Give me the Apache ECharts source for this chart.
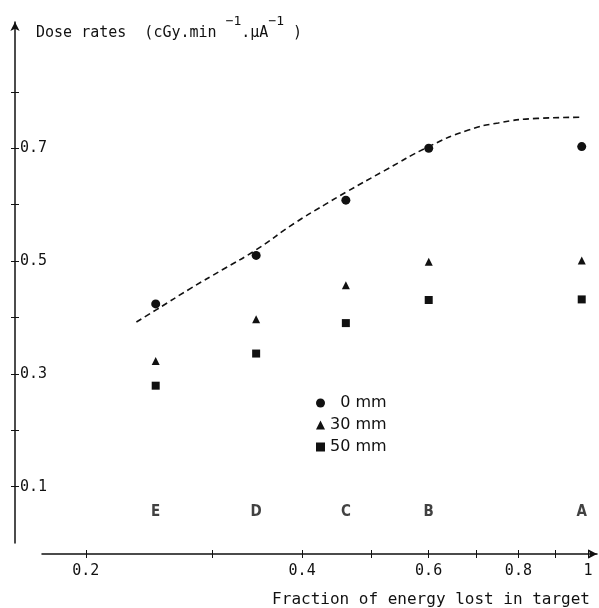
<!DOCTYPE html>
<html>
<head>
<meta charset="utf-8">
<script src="https://cdn.jsdelivr.net/npm/echarts@6/dist/echarts.min.js"></script>
<style>
  html, body { margin: 0; padding: 0; background: #fff; }
  #chart { width: 599px; height: 608px; }
</style>
</head>
<body>
<div id="chart"></div>
<script>
// fraction of energy lost in target, one column per target
var fractions = [0.25, 0.345, 0.46, 0.6, 0.98];
var targetLetters = ['E', 'D', 'C', 'B', 'A'];
var dose0mm = [0.424, 0.51, 0.608, 0.70, 0.703];
var dose30mm = [0.323, 0.397, 0.457, 0.499, 0.501];
var dose50mm = [0.279, 0.336, 0.39, 0.431, 0.432];
var letterLevel = 0.055;

// dashed guide curve
var curveX = [0.235, 0.25, 0.28, 0.31, 0.345, 0.39, 0.43, 0.46, 0.52, 0.6, 0.68, 0.75, 0.85, 0.98];
var curveY = [0.392, 0.413, 0.452, 0.485, 0.52, 0.567, 0.60, 0.622, 0.66, 0.703, 0.732, 0.745, 0.753, 0.755];

var xTickValues = [0.2, 0.3, 0.4, 0.5, 0.6, 0.7, 0.8, 0.9, 1];
var xLabelValues = [0.2, 0.4, 0.6, 0.8, 1];
var yTickValues = [0.1, 0.2, 0.3, 0.4, 0.5, 0.6, 0.7, 0.8];
var yLabelValues = [0.1, 0.3, 0.5, 0.7];

var MONO = '"DejaVu Sans Mono", monospace';
var INK = '#111';

// the x axis is logarithmic: values go in as log10
function lg(v) { return Math.log10(v); }
function pairs(xs, ys) {
    return xs.map(function(x, i) { return [lg(x), ys[i]]; });
}

var X_MIN = -0.798, X_MAX = 0.0125;
var Y_MAX = 0.924;

var chart = echarts.init(document.getElementById('chart'));
chart.setOption({
    animation: false,
    title: {
        left: 31,
        top: 10,
        text: '{t|Dose rates  (cGy.min }{s|\u22121}{t|.\u00b5A}{s|\u22121}{t| )}',
        textStyle: {
            rich: {
                t: { fontFamily: MONO, fontSize: 15, fontWeight: 'normal', color: INK, verticalAlign: 'bottom', lineHeight: 26 },
                s: { fontFamily: MONO, fontSize: 13, fontWeight: 'normal', color: INK, verticalAlign: 'top', lineHeight: 26, padding: [0, 0, 12, 0] }
            }
        }
    },
    legend: {
        orient: 'vertical',
        left: 311,
        top: 390,
        itemWidth: 9,
        itemHeight: 9,
        itemGap: 6,
        itemStyle: { opacity: 1 },
        textStyle: { fontFamily: '"DejaVu Sans", sans-serif', fontSize: 16, color: INK },
        data: [
            { name: '\u20070 mm', icon: 'circle' },
            { name: '30 mm', icon: 'triangle' },
            { name: '50 mm', icon: 'rect' }
        ]
    },
    grid: [
        { left: 15, right: 2, top: 22, bottom: 65 },
        { left: 42, right: 2, top: 540, bottom: 54 }
    ],
    xAxis: [
        { gridIndex: 0, type: 'value', min: X_MIN, max: X_MAX, show: false },
        {
            gridIndex: 1, type: 'value', min: -0.760, max: X_MAX, position: 'bottom',
            axisLine: { onZero: false, lineStyle: { color: INK, width: 1.5 }, symbol: ['none', 'arrow'], symbolSize: [7, 9] },
            axisTick: { length: 4, lineStyle: { color: INK }, customValues: xTickValues.map(lg) },
            axisLabel: {
                margin: 10, fontFamily: MONO, fontSize: 15, color: INK,
                customValues: xLabelValues.map(lg),
                formatter: function(v) { return String(Math.round(Math.pow(10, v) * 10) / 10); }
            },
            splitLine: { show: false }
        },
        {
            gridIndex: 1, type: 'value', min: -0.760, max: X_MAX, position: 'bottom',
            axisLine: { onZero: false, show: false },
            axisTick: { inside: true, length: 4, lineStyle: { color: INK }, customValues: xTickValues.map(lg) },
            axisLabel: { show: false },
            splitLine: { show: false }
        }
    ],
    yAxis: [
        {
            gridIndex: 0, type: 'value', min: 0, max: Y_MAX, position: 'left',
            axisLine: { onZero: false, lineStyle: { color: INK, width: 1.5 }, symbol: ['none', 'arrow'], symbolSize: [7, 9] },
            axisTick: { inside: true, length: 4, lineStyle: { color: INK }, customValues: yTickValues },
            axisLabel: {
                inside: true, margin: 5, fontFamily: MONO, fontSize: 15, color: INK,
                customValues: yLabelValues,
                formatter: function(v) { return v.toFixed(1); }
            },
            splitLine: { show: false }
        },
        {
            gridIndex: 0, type: 'value', min: 0, max: Y_MAX, position: 'left',
            axisLine: { onZero: false, show: false },
            axisTick: { length: 4, lineStyle: { color: INK }, customValues: yTickValues },
            axisLabel: { show: false },
            splitLine: { show: false }
        },
        { gridIndex: 1, type: 'value', show: false }
    ],
    series: [
        {
            name: 'curve', type: 'line', xAxisIndex: 0, yAxisIndex: 0,
            smooth: true, symbol: 'none', silent: true,
            lineStyle: { color: INK, width: 1.6, type: [6, 4] },
            data: pairs(curveX, curveY)
        },
        {
            name: '\u20070 mm', type: 'scatter', xAxisIndex: 0, yAxisIndex: 0,
            symbol: 'circle', symbolSize: 9, itemStyle: { color: INK, opacity: 1 },
            data: pairs(fractions, dose0mm)
        },
        {
            name: '30 mm', type: 'scatter', xAxisIndex: 0, yAxisIndex: 0,
            symbol: 'triangle', symbolSize: 8, itemStyle: { color: INK, opacity: 1 },
            data: pairs(fractions, dose30mm)
        },
        {
            name: '50 mm', type: 'scatter', xAxisIndex: 0, yAxisIndex: 0,
            symbol: 'rect', symbolSize: 8, itemStyle: { color: INK, opacity: 1 },
            data: pairs(fractions, dose50mm)
        },
        {
            name: 'targets', type: 'scatter', xAxisIndex: 0, yAxisIndex: 0,
            symbolSize: 0, silent: true,
            label: {
                show: true, position: 'inside',
                fontFamily: '"DejaVu Sans Condensed", sans-serif',
                fontWeight: 'bold', fontSize: 15, color: INK,
                formatter: function(p) { return p.value[2]; }
            },
            data: fractions.map(function(f, i) { return [lg(f), letterLevel, targetLetters[i]]; })
        }
    ],
    graphic: [
        {
            type: 'text', right: 9, top: 592,
            style: { text: 'Fraction of energy lost in target', font: '16px ' + MONO, fill: INK }
        }
    ]
});
</script>
</body>
</html>
